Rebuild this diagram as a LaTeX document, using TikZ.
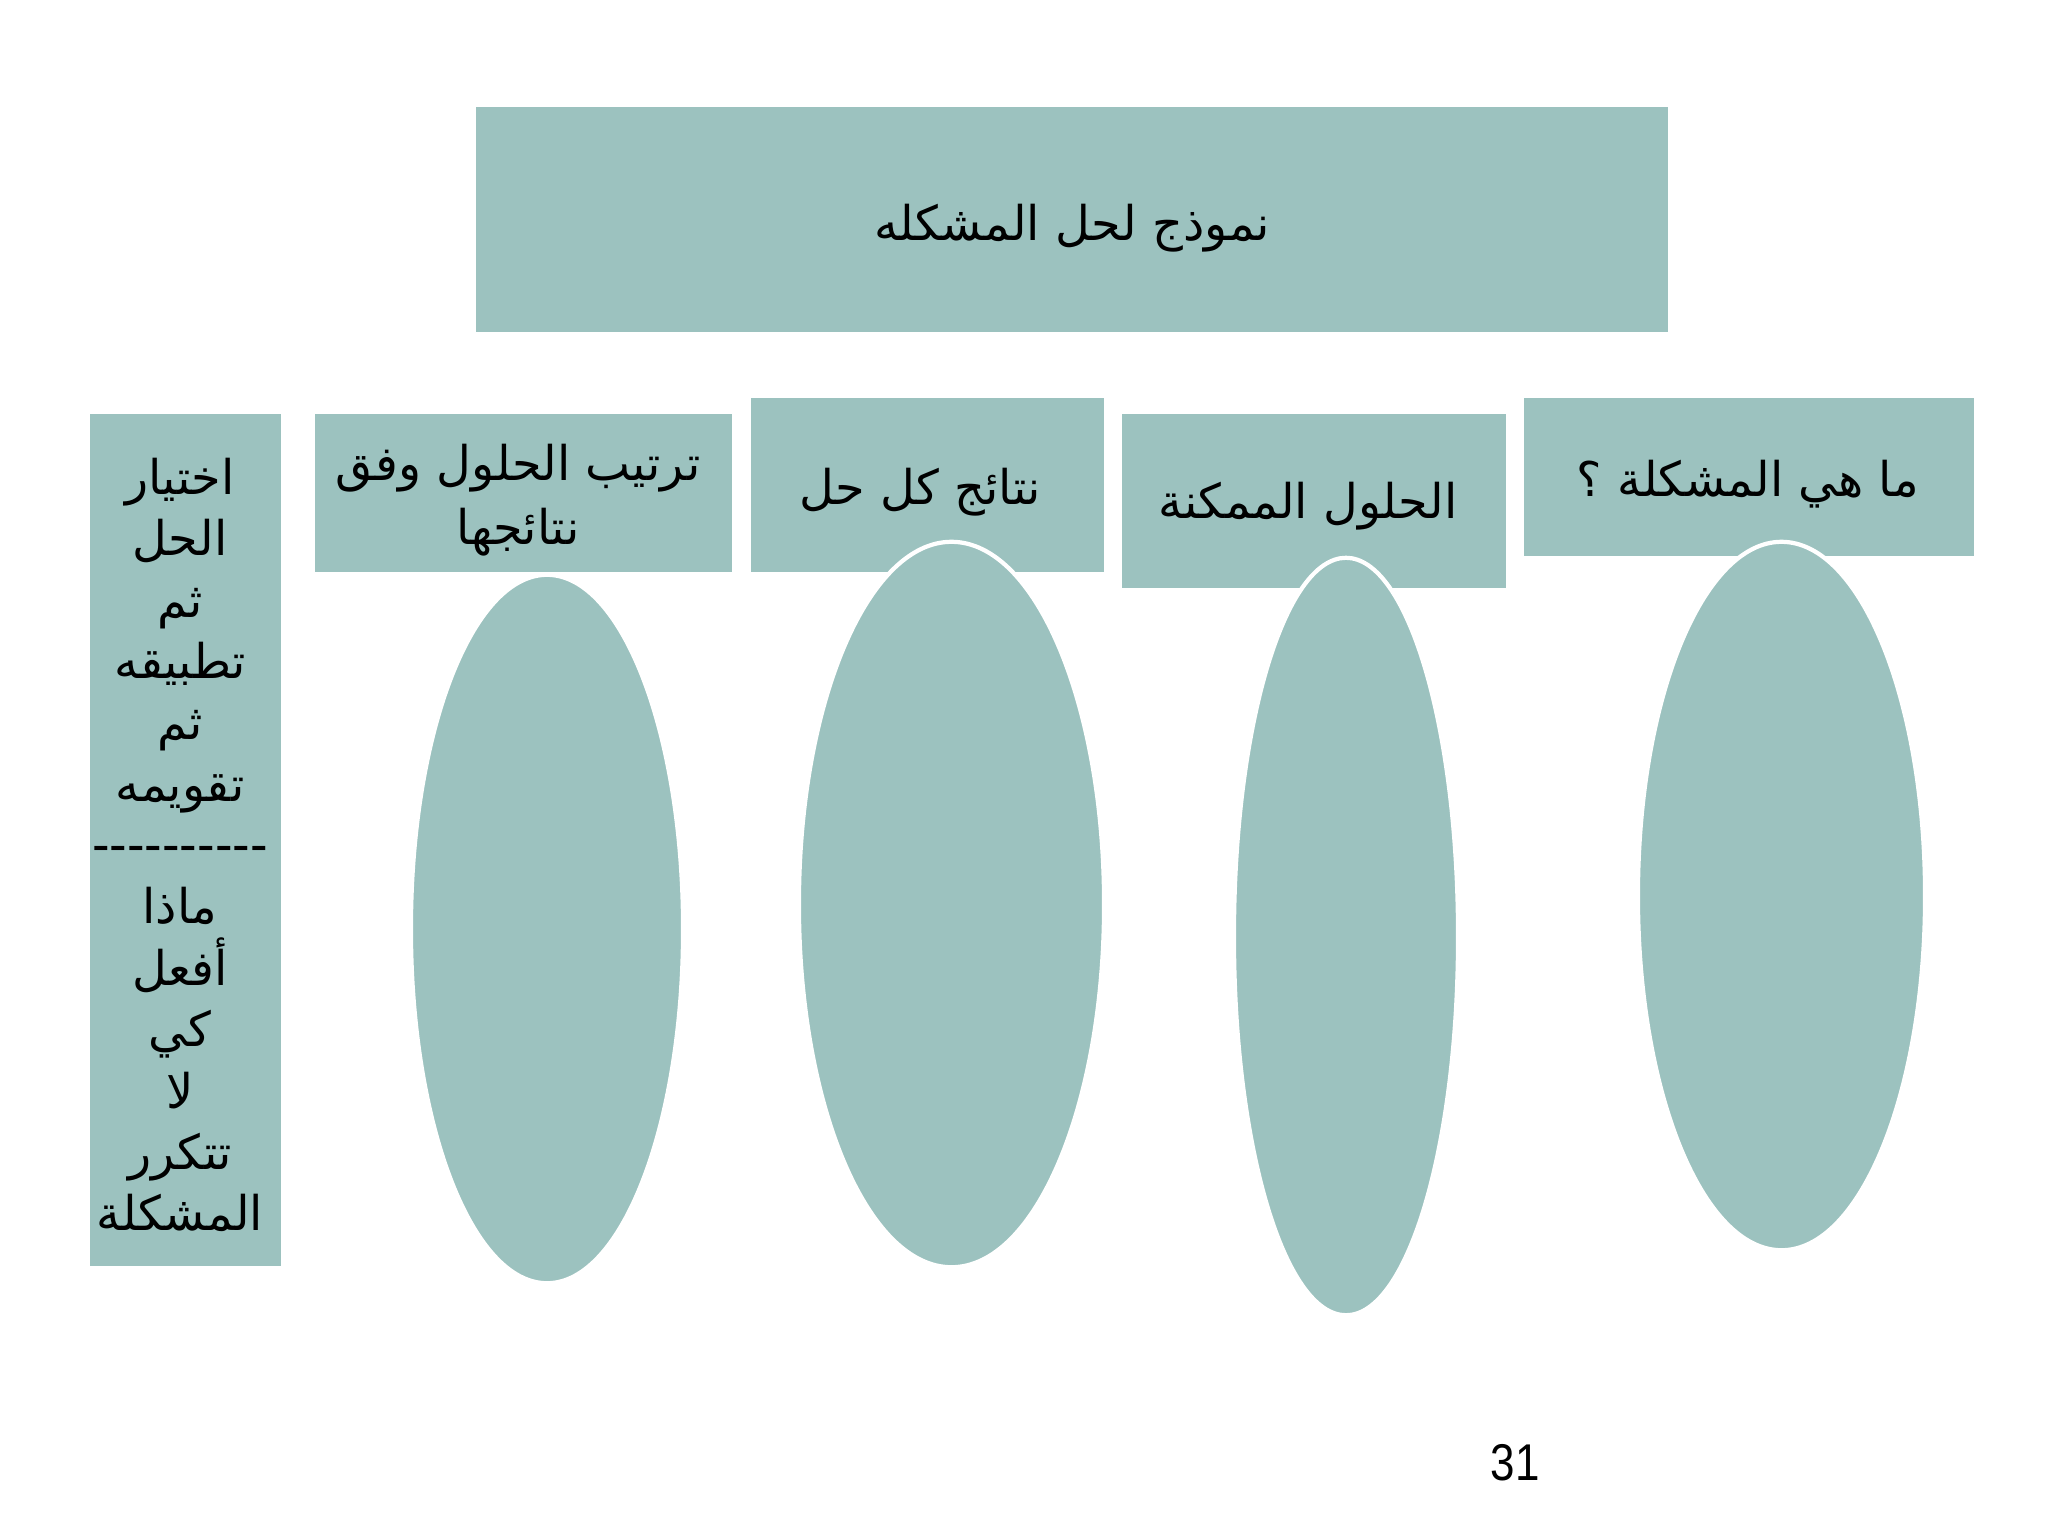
\documentclass[tikz,border=0pt]{standalone}
\usepackage{fontspec}
\setmainfont{Liberation Sans}
\newfontfamily\arabicfont[Script=Arabic]{DejaVu Sans}
\TeXXeTstate=1
\usetikzlibrary{shapes.geometric}
\definecolor{tealfill}{HTML}{9CC2BF}
\newcommand\dsh{-\kern0pt}
\newcommand\ar[1]{\beginR #1\endR}
\tikzset{
  panel/.style={rectangle, fill=tealfill, draw=none, inner sep=0pt, align=center,
    font=\arabicfont\fontsize{13.6}{18}\selectfont},
  oval/.style={ellipse, fill=tealfill, draw=white, line width=1.2pt, inner sep=0pt},
  label text/.style={inner sep=0pt, align=center, font=\arabicfont\fontsize{13.6}{18}\selectfont},
}
\begin{document}
\begin{tikzpicture}[x=0.01cm, y=-0.01cm]
\fill[white] (0,0) rectangle (2048,1536);
\useasboundingbox (0,0) rectangle (2048,1536);

% title
\node[panel, minimum width=11.92cm, minimum height=2.25cm] (title) at (1072,219.5) {};
\node[label text] (titletext) at (1072,228) {\ar{نموذج لحل المشكله}};

% left box
\node[panel, minimum width=1.91cm, minimum height=8.52cm] (left) at (185.5,840) {};
\node[label text, font=\arabicfont\fontsize{13.6}{17.45}\selectfont] (lefttext) at (180,845)
  {\ar{اختيار}\\ \ar{الحل}\\ \ar{ثم}\\ \ar{تطبيقه}\\ \ar{ثم}\\ \ar{تقويمه}\\
   {\rmfamily\fontsize{15}{17.45}\selectfont\dsh\dsh\dsh\dsh\dsh\dsh\dsh\dsh\dsh\dsh}\\
   \ar{ماذا}\\ \ar{أفعل}\\ \ar{كي}\\ \ar{لا}\\ \ar{تتكرر}\\ \ar{المشكلة}};

% header boxes
\node[panel, minimum width=4.17cm, minimum height=1.58cm] (b2) at (523.5,493) {};
\node[label text] (b2text) at (518,500) {\ar{ترتيب الحلول وفق}\\ \ar{نتائجها}};
\node[panel, minimum width=3.53cm, minimum height=1.74cm] (b3) at (927.5,485) {};
\node[label text] (b3text) at (920,492) {\ar{نتائج كل حل}};
\node[panel, minimum width=3.84cm, minimum height=1.74cm] (b4) at (1314,501) {};
\node[label text] (b4text) at (1308,506) {\ar{الحلول الممكنة}};
\node[panel, minimum width=4.50cm, minimum height=1.58cm] (b5) at (1749,477) {};
\node[label text] (b5text) at (1748,484) {\ar{ما هي المشكلة ؟}};

% ellipses
\node[oval, minimum width=2.72cm, minimum height=7.08cm] (e1) at (547,929) {};
\node[oval, minimum width=3.05cm, minimum height=7.25cm] (e2) at (951.5,904.5) {};
\node[oval, minimum width=2.24cm, minimum height=7.57cm] (e3) at (1346,936.5) {};
\node[oval, minimum width=2.87cm, minimum height=7.08cm] (e4) at (1781.5,896) {};

% page number
\node[inner sep=0pt, font=\fontsize{14.7}{17}\selectfont, xscale=0.85] (pg) at (1515,1463) {31};
\end{tikzpicture}
\end{document}
